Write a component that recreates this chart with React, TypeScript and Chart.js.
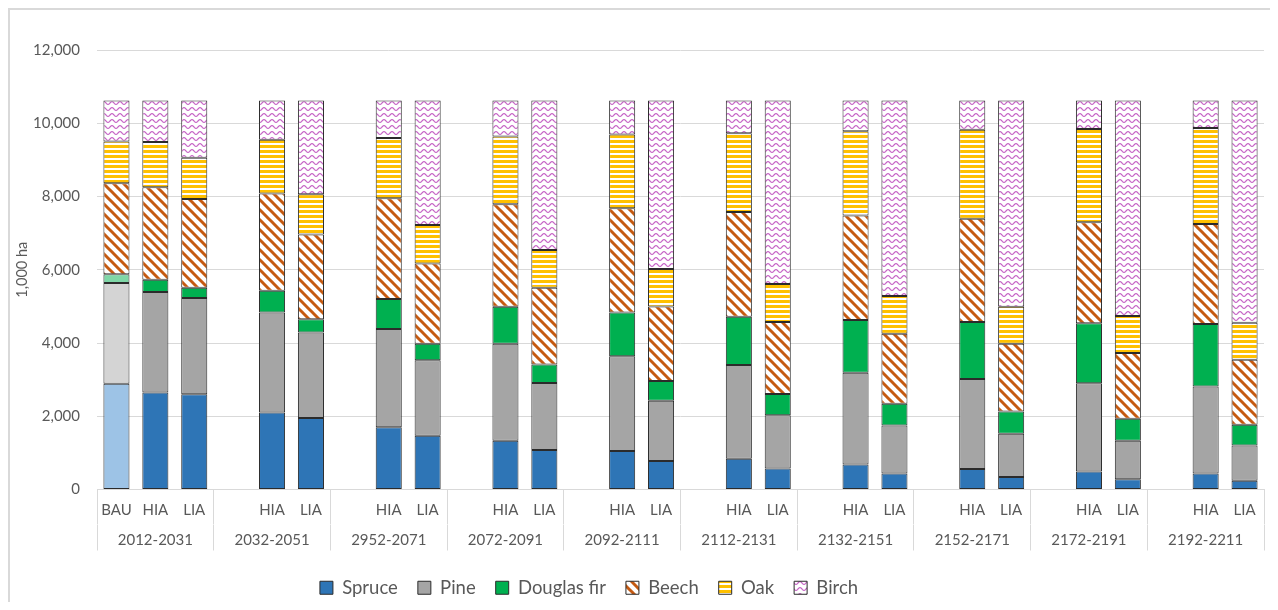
import React, { useEffect, useRef } from "react";
import { Chart, registerables } from "chart.js";

Chart.register(...registerables);

const CATEGORIES = [
  "BAU", "HIA", "LIA",
  "", "HIA", "LIA",
  "", "HIA", "LIA",
  "", "HIA", "LIA",
  "", "HIA", "LIA",
  "", "HIA", "LIA",
  "", "HIA", "LIA",
  "", "HIA", "LIA",
  "", "HIA", "LIA",
  "", "HIA", "LIA",
];

const PERIODS = [
  "2012-2031", "2032-2051", "2952-2071", "2072-2091", "2092-2111",
  "2112-2131", "2132-2151", "2152-2171", "2172-2191", "2192-2211",
];

const SPRUCE = [2890, 2650, 2600, null, 2100, 1950, null, 1700, 1470, null, 1330, 1080, null, 1050, 780, null, 840, 570, null, 680, 440, null, 560, 340, null, 490, 280, null, 440, 240];
const PINE = [2750, 2740, 2630, null, 2730, 2340, null, 2680, 2060, null, 2650, 1830, null, 2590, 1640, null, 2560, 1460, null, 2510, 1310, null, 2460, 1180, null, 2410, 1050, null, 2370, 960];
const DOUGLAS_FIR = [240, 340, 280, null, 600, 360, null, 820, 450, null, 1010, 500, null, 1190, 540, null, 1320, 580, null, 1440, 590, null, 1550, 610, null, 1640, 600, null, 1710, 570];
const BEECH = [2480, 2520, 2420, null, 2650, 2310, null, 2750, 2190, null, 2800, 2100, null, 2850, 2040, null, 2860, 1960, null, 2850, 1910, null, 2820, 1850, null, 2760, 1800, null, 2730, 1770];
const OAK = [1140, 1240, 1130, null, 1470, 1100, null, 1650, 1050, null, 1850, 1030, null, 2010, 1020, null, 2150, 1040, null, 2300, 1030, null, 2430, 1010, null, 2540, 1010, null, 2620, 1010];
const BIRCH = [1120, 1130, 1560, null, 1070, 2560, null, 1020, 3400, null, 980, 4080, null, 930, 4600, null, 890, 5010, null, 840, 5340, null, 800, 5630, null, 780, 5880, null, 750, 6070];

const Y_TICKS = [0, 2000, 4000, 6000, 8000, 10000, 12000];

const FONT = "Lato, 'Open Sans', sans-serif";
const TEXT = "#595959";
const GRID = "#d9d9d9";
const EDGE = "#2b2b2b";

const SPRUCE_COLOR = "#2E75B6";
const SPRUCE_BAU = "#9DC3E6";
const PINE_COLOR = "#A5A5A5";
const PINE_BAU = "#D4D4D4";
const DF_COLOR = "#00B050";
const DF_BAU = "#7FD7A7";

function tile(w: number, h: number, draw: (c: CanvasRenderingContext2D) => void) {
  const cv = document.createElement("canvas");
  cv.width = w;
  cv.height = h;
  const c = cv.getContext("2d")!;
  c.fillStyle = "#ffffff";
  c.fillRect(0, 0, w, h);
  draw(c);
  return c.createPattern(cv, "repeat")!;
}

function makeBeech() {
  return tile(10, 10, (c) => {
    c.strokeStyle = "#C55A11";
    c.lineWidth = 3;
    for (const o of [-10, 0, 10]) {
      c.beginPath();
      c.moveTo(o - 2, -2);
      c.lineTo(o + 12, 12);
      c.stroke();
    }
  });
}

function makeOak() {
  return tile(4, 5, (c) => {
    c.fillStyle = "#FFC000";
    c.fillRect(0, 0, 4, 3);
  });
}

function makeBirch() {
  return tile(8, 6, (c) => {
    c.strokeStyle = "#C25AC2";
    c.lineWidth = 1.1;
    c.beginPath();
    for (let x = -1; x <= 9; x += 0.5) {
      const y = 3 + 1.4 * Math.sin((2 * Math.PI * x) / 8);
      if (x === -1) c.moveTo(x, y);
      else c.lineTo(x, y);
    }
    c.stroke();
  });
}

export default function App() {
  const ref = useRef<HTMLCanvasElement | null>(null);

  useEffect(() => {
    if (!ref.current) return;
    const firstLight = (dark: string, light: string) => (ctx: any) =>
      ctx.dataIndex === 0 ? light : dark;

    const base = {
      borderColor: EDGE,
      borderWidth: 1,
      borderSkipped: false as const,
      categoryPercentage: 0.67,
      barPercentage: 1,
    };

    const legendFill = [SPRUCE_COLOR, PINE_COLOR, DF_COLOR];

    const legendShift = {
      id: "legendShift",
      afterLayout(chart: any) {
        const l = chart.legend;
        if (l) {
          l.left -= 48;
          l.right -= 48;
          l.top += 4;
          l.bottom += 4;
        }
      },
    };

    const chart = new Chart(ref.current, {
      type: "bar",
      data: {
        labels: CATEGORIES,
        datasets: [
          { label: "Spruce", data: SPRUCE, backgroundColor: firstLight(SPRUCE_COLOR, SPRUCE_BAU), ...base },
          { label: "Pine", data: PINE, backgroundColor: firstLight(PINE_COLOR, PINE_BAU), ...base },
          { label: "Douglas fir", data: DOUGLAS_FIR, backgroundColor: firstLight(DF_COLOR, DF_BAU), ...base },
          { label: "Beech", data: BEECH, backgroundColor: makeBeech(), ...base },
          { label: "Oak", data: OAK, backgroundColor: makeOak(), ...base },
          { label: "Birch", data: BIRCH, backgroundColor: makeBirch(), ...base },
        ],
      },
      options: {
        responsive: false,
        animation: false,
        devicePixelRatio: 1,
        layout: { padding: { top: 40, bottom: -1, left: 0, right: 6 } },
        scales: {
          x: {
            stacked: true,
            weight: 0,
            grid: {
              offset: true,
              drawOnChartArea: false,
              drawTicks: true,
              tickLength: 35,
              color: (ctx: any) =>
                ctx.index === undefined || ctx.index % 3 === 0 ? GRID : "rgba(0,0,0,0)",
            },
            border: { display: true, color: GRID },
            ticks: {
              autoSkip: false,
              maxRotation: 0,
              padding: -23.5,
              color: TEXT,
              font: { family: FONT, size: 15 },
            },
            afterFit: (s: any) => {
              s.height = 35;
            },
          },
          x2: {
            type: "category",
            labels: PERIODS,
            position: "bottom",
            weight: 1,
            offset: true,
            grid: {
              offset: true,
              drawOnChartArea: false,
              drawTicks: true,
              tickLength: 26,
              color: GRID,
            },
            border: { display: false },
            ticks: {
              autoSkip: false,
              maxRotation: 0,
              padding: -19.5,
              color: TEXT,
              font: { family: FONT, size: 15 },
            },
            afterFit: (s: any) => {
              s.height = 30;
            },
          },
          y: {
            stacked: true,
            min: 0,
            max: 12000,
            afterBuildTicks: (s: any) => {
              s.ticks = Y_TICKS.map((v) => ({ value: v }));
            },
            grid: { color: GRID, drawTicks: false },
            border: { display: false },
            ticks: {
              padding: 17,
              color: TEXT,
              font: { family: FONT, size: 15 },
              callback: (v: any) => Number(v).toLocaleString("en-US"),
            },
            title: {
              display: true,
              text: "1,000 ha",
              color: TEXT,
              font: { family: FONT, size: 14.5 },
              padding: { top: 4, bottom: 0 },
            },
            afterFit: (s: any) => {
              s.width = 87;
            },
          },
        },
        plugins: {
          tooltip: { enabled: false },
          legend: {
            position: "bottom",
            labels: {
              boxWidth: 13,
              boxHeight: 13,
              padding: 20,
              color: TEXT,
              font: { family: FONT, size: 18.5 },
              generateLabels: (c: any) => {
                const items = (Chart as any).defaults.plugins.legend.labels.generateLabels(c);
                items.forEach((it: any, i: number) => {
                  if (legendFill[i]) it.fillStyle = legendFill[i];
                });
                return items;
              },
            },
          },
        },
      },
      plugins: [legendShift],
    } as any);

    return () => chart.destroy();
  }, []);

  return (
    <div
      style={{
        width: 1262,
        height: 594,
        borderLeft: "2px solid #d9d9d9",
        borderTop: "2px solid #d9d9d9",
        boxSizing: "border-box",
        position: "relative",
        background: "#fff",
      }}
    >
      <canvas ref={ref} width={1260} height={592} style={{ display: "block" }} />
    </div>
  );
}
